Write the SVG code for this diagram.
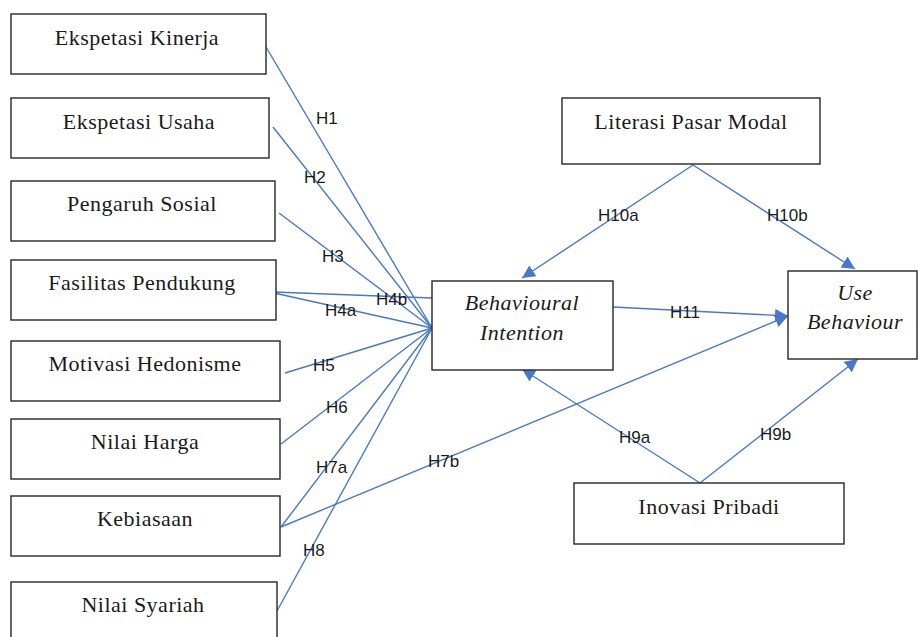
<svg xmlns="http://www.w3.org/2000/svg" width="918" height="637" viewBox="0 0 918 637">
<style>
.box{fill:#fff;stroke:#262626;stroke-width:1.4}
.t{font-family:"Liberation Serif","Times New Roman",serif;font-size:22px;fill:#1a1a1a;text-anchor:middle;letter-spacing:0.5px}
.ti{font-style:italic}
.c{stroke:#4a78c8;stroke-width:1.4;fill:none}
.l{font-family:"Liberation Sans",Arial,sans-serif;font-size:17px;fill:#1a1a1a}
</style>
<defs>
<marker id="ah" markerUnits="userSpaceOnUse" markerWidth="14" markerHeight="14" refX="13" refY="6.5" orient="auto">
<path d="M0,0 L13,6.5 L0,13 z" fill="#4a78c8"/>
</marker>
</defs>
<rect width="918" height="637" fill="#fff"/>
<g id="connectors">
<line class="c" x1="266" y1="47" x2="432" y2="328"/>
<line class="c" x1="273" y1="127" x2="432" y2="328"/>
<line class="c" x1="279" y1="213" x2="432" y2="328"/>
<line class="c" x1="274" y1="292" x2="432" y2="298"/>
<line class="c" x1="274" y1="293" x2="432" y2="328"/>
<line class="c" x1="285" y1="373" x2="432" y2="328"/>
<line class="c" x1="281" y1="444" x2="432" y2="328"/>
<line class="c" x1="281" y1="527" x2="432" y2="328"/>
<line class="c" x1="277" y1="611" x2="432" y2="328"/>
<line class="c" x1="281" y1="527" x2="788" y2="316" marker-end="url(#ah)"/>
<line class="c" x1="613" y1="307" x2="788" y2="316" marker-end="url(#ah)"/>
<line class="c" x1="693" y1="165" x2="522" y2="278" marker-end="url(#ah)"/>
<line class="c" x1="693" y1="165" x2="855" y2="269" marker-end="url(#ah)"/>
<line class="c" x1="700" y1="483" x2="522" y2="369" marker-end="url(#ah)"/>
<line class="c" x1="700" y1="483" x2="858" y2="359" marker-end="url(#ah)"/>
<text class="l" x="316" y="124">H1</text>
<text class="l" x="304" y="183">H2</text>
<text class="l" x="322" y="262">H3</text>
<text class="l" x="376" y="305">H4b</text>
<text class="l" x="325" y="316">H4a</text>
<text class="l" x="313" y="371">H5</text>
<text class="l" x="326" y="413">H6</text>
<text class="l" x="316" y="473">H7a</text>
<text class="l" x="428" y="467">H7b</text>
<text class="l" x="303" y="556">H8</text>
<text class="l" x="619" y="443">H9a</text>
<text class="l" x="760" y="440">H9b</text>
<text class="l" x="598" y="221">H10a</text>
<text class="l" x="767" y="221">H10b</text>
<text class="l" x="670" y="318">H11</text>
</g>
<g id="ekspetasi-kinerja"><rect class="box" x="11" y="14" width="255" height="60"/><text class="t" x="137" y="45">Ekspetasi Kinerja</text></g>
<g id="ekspetasi-usaha"><rect class="box" x="11" y="98" width="258" height="60"/><text class="t" x="139" y="129">Ekspetasi Usaha</text></g>
<g id="pengaruh-sosial"><rect class="box" x="11" y="181" width="264" height="60"/><text class="t" x="142" y="211">Pengaruh Sosial</text></g>
<g id="fasilitas-pendukung"><rect class="box" x="11" y="260" width="265" height="60"/><text class="t" x="142" y="290">Fasilitas Pendukung</text></g>
<g id="motivasi-hedonisme"><rect class="box" x="11" y="341" width="269" height="60"/><text class="t" x="145" y="371">Motivasi Hedonisme</text></g>
<g id="nilai-harga"><rect class="box" x="11" y="419" width="269" height="60"/><text class="t" x="145" y="449">Nilai Harga</text></g>
<g id="kebiasaan"><rect class="box" x="11" y="496" width="269" height="60"/><text class="t" x="145" y="526">Kebiasaan</text></g>
<g id="nilai-syariah"><rect class="box" x="11" y="582" width="266" height="70"/><text class="t" x="143" y="612">Nilai Syariah</text></g>
<g id="behavioural-intention"><rect class="box" x="432" y="281" width="181" height="89"/><text class="t ti" x="522" y="310">Behavioural</text><text class="t ti" x="522" y="340">Intention</text></g>
<g id="literasi-pasar-modal"><rect class="box" x="562" y="98" width="258" height="66"/><text class="t" x="691" y="129">Literasi Pasar Modal</text></g>
<g id="use-behaviour"><rect class="box" x="788" y="271" width="129" height="88"/><text class="t ti" x="855" y="300">Use</text><text class="t ti" x="855" y="329">Behaviour</text></g>
<g id="inovasi-pribadi"><rect class="box" x="574" y="483" width="270" height="61"/><text class="t" x="709" y="514">Inovasi Pribadi</text></g>
</svg>
